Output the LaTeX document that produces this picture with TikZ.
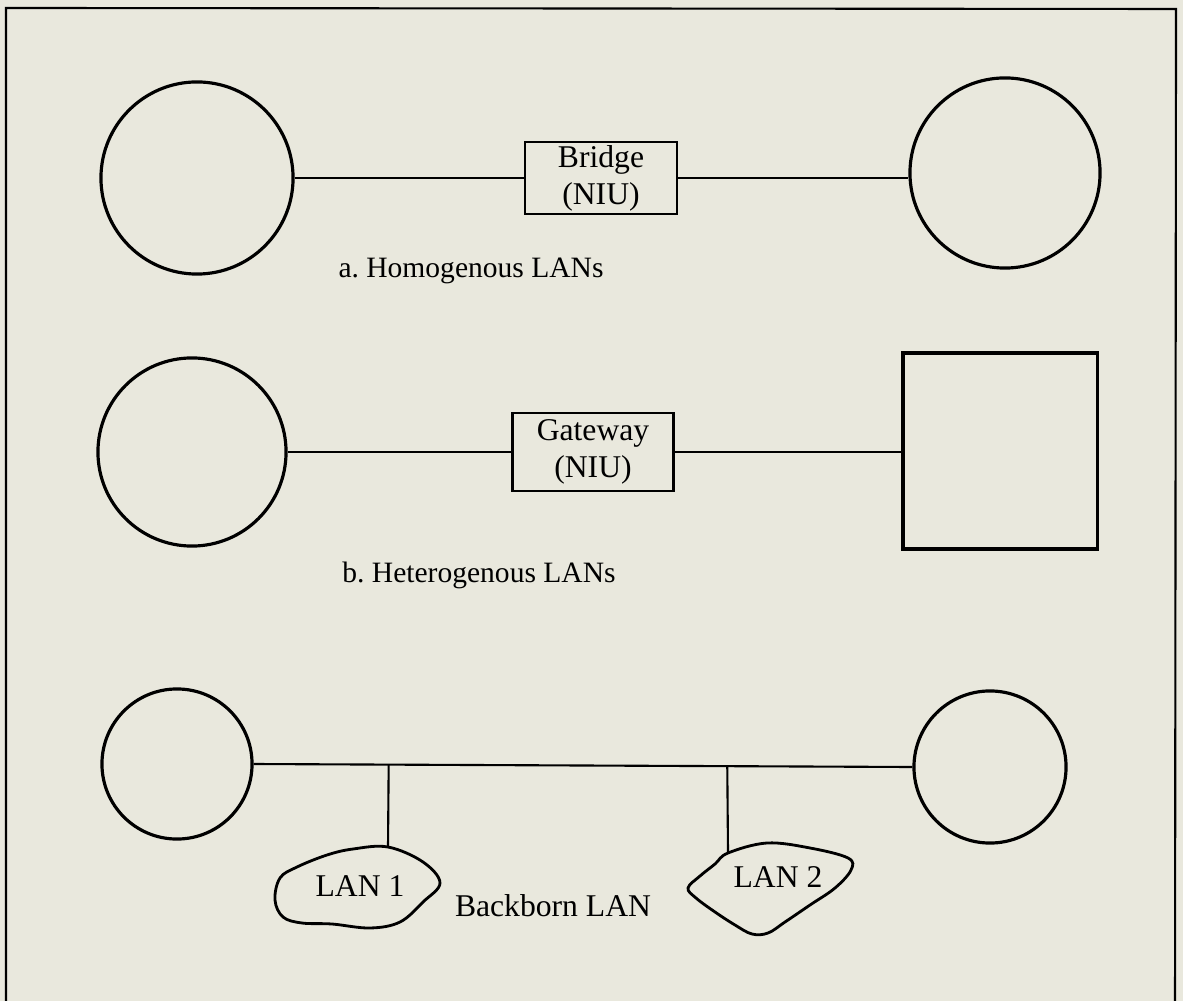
\documentclass[tikz,border=0pt]{standalone}
\usepackage{fontspec}
\setmainfont{Liberation Serif}
\definecolor{paper}{RGB}{233,232,221}
\begin{document}
\begin{tikzpicture}[x=0.01cm, y=-0.01cm,
    lan/.style={draw, circle, line width=0.9pt, inner sep=0pt},
    niubox/.style={draw, rectangle, line width=0.8pt, align=center, inner sep=0pt, font=\fontsize{9}{10.5}\selectfont},
    link/.style={line width=0.6pt},
    cloud/.style={line width=0.8pt},
    caption/.style={font=\fontsize{8.4}{10}\selectfont},
    lanlabel/.style={font=\fontsize{9}{11}\selectfont}]

        % Paper and frame (open at the bottom)
        \fill[paper] (0,0) rectangle (1183,1001);
        \useasboundingbox (0,0) rectangle (1183,1001);
        \draw[line width=0.6pt] (6,1001) -- (6,8) -- (1176,9) -- (1175,1001);

        % a. Homogenous LANs
        \node[lan, minimum size=1.92cm] (homA) at (197,178) {};
        \node[lan, minimum size=1.90cm] (homB) at (1005,173) {};
        \node[niubox, minimum width=1.52cm, minimum height=0.72cm] (bridge) at (601,178) {Bridge\\(NIU)};
        \draw[link] (homA.east) -- (bridge.west);
        \draw[link] (bridge.east) -- (homB.west |- bridge.east);
        \node[caption] (capA) at (471,271) {a.\ Homogenous LANs};

        % b. Heterogenous LANs
        \node[lan, minimum size=1.88cm] (hetA) at (192,452) {};
        \node[draw, rectangle, line width=0.9pt, minimum width=1.94cm, minimum height=1.96cm] (hetB) at (1000,451) {};
        \node[niubox, minimum width=1.61cm, minimum height=0.78cm] (gateway) at (593,452) {Gateway\\(NIU)};
        \draw[link] (hetA.east) -- (gateway.west);
        \draw[link] (gateway.east) -- (gateway.east -| hetB.west);
        \node[caption] (capB) at (479,575) {b.\ Heterogenous LANs};

        % Backborn LAN
        \node[lan, minimum size=1.50cm] (bbA) at (177,764) {};
        \node[lan, minimum size=1.52cm] (bbB) at (990,767) {};
        \draw[link] (bbA.east) -- (bbB.west)
            coordinate[pos=0.205] (tap1) coordinate[pos=0.719] (tap2);

        % LAN 1 and LAN 2 clouds
        \coordinate (lan1top) at (388,847);
        \coordinate (lan2top) at (728,853);
        \draw[link] (tap1) -- (lan1top);
        \draw[link] (tap2) -- (lan2top);
        \draw[cloud] plot[smooth cycle, tension=0.6] coordinates {(388,847) (423,862) (440,883) (423,902) (400,922) (370,928) (332,924) (302,923) (283,917) (275,900) (280,878) (297,867) (327,855) (353,849)};
        \node[lanlabel] (lan1) at (360,886) {LAN 1};
        \draw[cloud] plot[smooth cycle, tension=0.6] coordinates {(728,853) (767,843) (810,848) (848,858) (851,870) (835,888) (810,905) (785,922) (768,933) (752,934) (735,925) (715,912) (696,898) (688,888) (700,876) (715,864)};
        \node[lanlabel] (lan2) at (778,877) {LAN 2};
        \node[lanlabel] (capC) at (553,906) {Backborn LAN};
\end{tikzpicture}
\end{document}
